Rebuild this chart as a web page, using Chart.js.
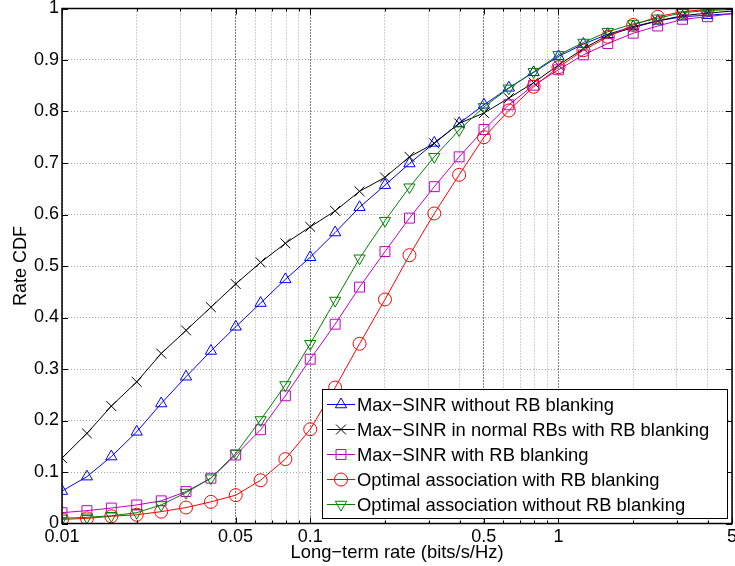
<!DOCTYPE html>
<html><head><meta charset="utf-8">
<script src="https://cdn.jsdelivr.net/npm/chart.js@4.4.0/dist/chart.umd.min.js"></script>
<style>html,body{margin:0;padding:0;background:#fff;}#wrap{width:735px;height:566px;}</style>
</head><body><div id="wrap"><canvas id="c" width="735" height="566"></canvas></div>
<script>
// ---- data ----
const xRates = [0.01, 0.0126, 0.0158, 0.02, 0.0251, 0.0316, 0.0398, 0.0501, 0.0631, 0.0794,
                0.1, 0.126, 0.158, 0.2, 0.251, 0.316, 0.398, 0.501, 0.631, 0.794,
                1, 1.26, 1.58, 2, 2.51, 3.16, 3.98, 5.01];
const seriesLabels = [
  'Max−SINR without RB blanking',
  'Max−SINR in normal RBs with RB blanking',
  'Max−SINR with RB blanking',
  'Optimal association with RB blanking',
  'Optimal association without RB blanking'
];
const maxSinrNoBlank = [0.063, 0.091, 0.13, 0.178, 0.233, 0.285, 0.335, 0.382, 0.428, 0.474,
  0.517, 0.565, 0.614, 0.657, 0.699, 0.739, 0.777, 0.813, 0.846, 0.876,
  0.907, 0.931, 0.95, 0.965, 0.976, 0.984, 0.987, 0.99];
const maxSinrNormalRBs = [0.127, 0.175, 0.228, 0.275, 0.33, 0.375, 0.42, 0.465, 0.507, 0.544,
  0.576, 0.607, 0.645, 0.672, 0.712, 0.738, 0.777, 0.797, 0.826, 0.856,
  0.89, 0.922, 0.948, 0.963, 0.976, 0.986, 0.991, 0.995];
const maxSinrBlank = [0.021, 0.025, 0.03, 0.036, 0.044, 0.062, 0.088, 0.133, 0.182, 0.248,
  0.319, 0.387, 0.459, 0.528, 0.593, 0.654, 0.712, 0.765, 0.813, 0.851,
  0.881, 0.91, 0.932, 0.952, 0.966, 0.979, 0.984, 0.99];
const optimalBlank = [0.008, 0.01, 0.014, 0.017, 0.023, 0.031, 0.042, 0.055, 0.084, 0.125,
  0.183, 0.264, 0.349, 0.435, 0.521, 0.602, 0.677, 0.75, 0.802, 0.848,
  0.886, 0.919, 0.945, 0.968, 0.984, 0.994, 0.998, 1.0];
const optimalNoBlank = [0.01, 0.012, 0.015, 0.021, 0.036, 0.06, 0.088, 0.136, 0.201, 0.269,
  0.349, 0.433, 0.515, 0.588, 0.653, 0.712, 0.764, 0.809, 0.845, 0.877,
  0.91, 0.934, 0.955, 0.97, 0.981, 0.992, 0.996, 0.998];
const xTickValues = [0.01, 0.02, 0.03, 0.04, 0.05, 0.06, 0.07, 0.08, 0.09,
  0.1, 0.2, 0.3, 0.4, 0.5, 0.6, 0.7, 0.8, 0.9, 1, 2, 3, 4, 5];
const xLabeledTicks = [0.01, 0.05, 0.1, 0.5, 1, 5];
const yTickValues = [0, 0.1, 0.2, 0.3, 0.4, 0.5, 0.6, 0.7, 0.8, 0.9, 1];

const FONT = "'Liberation Sans', Arial, Helvetica, sans-serif";
const lastIdx = xRates.length - 1;

function mk(label, values, color, style, radius, rotation, order) {
  return {
    label, order,
    data: xRates.map((x, i) => ({x, y: values[i]})),
    borderColor: color, borderWidth: 1, tension: 0, fill: false,
    pointStyle: style, pointRotation: rotation,
    pointRadius: ctx => ctx.dataIndex === lastIdx ? 0 : radius,
    pointBorderColor: color, pointBackgroundColor: 'rgba(0,0,0,0)', pointBorderWidth: 1,
    _legendRadius: radius
  };
}

const datasets = [
  mk(seriesLabels[0], maxSinrNoBlank, '#0000ff', 'triangle', 6.5, 0, 5),
  mk(seriesLabels[1], maxSinrNormalRBs, '#000000', 'crossRot', 7, 0, 4),
  mk(seriesLabels[2], maxSinrBlank, '#bf00bf', 'rect', 7, 0, 3),
  mk(seriesLabels[3], optimalBlank, '#ff0000', 'circle', 6.5, 0, 2),
  mk(seriesLabels[4], optimalNoBlank, '#008000', 'triangle', 6.5, 180, 1)
];

const framePlugin = {
  id: 'frame',
  afterDatasetsDraw(chart) {
    const {ctx, chartArea: a, scales: {x, y}} = chart;
    ctx.save();
    ctx.strokeStyle = '#000';
    ctx.lineWidth = 1;
    ctx.beginPath();
    yTickValues.forEach(v => {
      const py = Math.round(y.getPixelForValue(v)) + 0.5;
      ctx.moveTo(a.left, py); ctx.lineTo(a.left + 6, py);
      ctx.moveTo(a.right, py); ctx.lineTo(a.right - 6, py);
    });
    xTickValues.forEach(v => {
      const px = Math.round(x.getPixelForValue(v)) + 0.5;
      const len = xLabeledTicks.includes(v) ? 6 : 3;
      ctx.moveTo(px, a.bottom); ctx.lineTo(px, a.bottom - len);
      ctx.moveTo(px, a.top); ctx.lineTo(px, a.top + len);
    });
    ctx.stroke();
    ctx.lineWidth = 1.5;
    ctx.strokeRect(a.left, a.top, a.right - a.left, a.bottom - a.top);
    ctx.restore();
  }
};

const legendPlugin = {
  id: 'boxLegend',
  afterDraw(chart) {
    const {ctx, chartArea: a} = chart;
    const w = 405, h = 129;
    const x0 = a.right - 5 - w, y0 = a.bottom - 5.5 - h;
    ctx.save();
    ctx.fillStyle = '#fff';
    ctx.fillRect(x0, y0, w, h);
    ctx.strokeStyle = '#000';
    ctx.lineWidth = 1;
    ctx.strokeRect(Math.round(x0) + 0.5, Math.round(y0) + 0.5, w, h);
    ctx.font = '18.4px ' + FONT;
    ctx.textBaseline = 'middle';
    ctx.textAlign = 'left';
    chart.data.datasets.forEach((ds, i) => {
      const cy = y0 + 15.5 + i * 25;
      ctx.strokeStyle = ds.borderColor;
      ctx.lineWidth = 1;
      ctx.beginPath();
      ctx.moveTo(x0 + 5, cy); ctx.lineTo(x0 + 33, cy);
      ctx.stroke();
      ctx.fillStyle = 'rgba(0,0,0,0)';
      Chart.helpers.drawPoint(ctx, {pointStyle: ds.pointStyle, rotation: ds.pointRotation,
        radius: ds._legendRadius, borderWidth: 1}, x0 + 19, cy);
      ctx.fillStyle = '#000';
      ctx.fillText(ds.label, x0 + 35, cy + 1);
    });
    ctx.restore();
  }
};

new Chart(document.getElementById('c'), {
  type: 'line',
  data: {datasets},
  options: {
    responsive: false, animation: false, devicePixelRatio: 1,
    layout: {autoPadding: false, padding: {left: 0, right: 3, top: 8.5, bottom: 0}},
    plugins: {legend: {display: false}, tooltip: {enabled: false}},
    scales: {
      x: {
        type: 'logarithmic', min: 0.01, max: 5,
        afterBuildTicks: s => { s.ticks = xTickValues.map(v => ({value: v})); },
        afterFit: s => { s.height = 42.5; s.paddingLeft = 0; s.paddingRight = 0; },
        ticks: {
          autoSkip: false, maxRotation: 0, minRotation: 0, padding: 2.5, color: '#000',
          font: {family: FONT, size: 18},
          callback: v => xLabeledTicks.includes(v) ? String(v) : ''
        },
        grid: {
          drawTicks: false, lineWidth: 1,
          color: c => xLabeledTicks.includes(c.tick && c.tick.value) ? '#000' : '#a0a0a0'
        },
        border: {display: false, dash: [1, 2]},
        title: {display: true, text: 'Long−term rate (bits/s/Hz)', color: '#000',
          font: {family: FONT, size: 18.4}, padding: {top: 0, bottom: 1.7}}
      },
      y: {
        min: 0, max: 1,
        afterBuildTicks: s => { s.ticks = yTickValues.map(v => ({value: v})); },
        afterFit: s => { s.width = 62; s.paddingTop = 0; s.paddingBottom = 0; },
        ticks: {padding: 3, color: '#000', font: {family: FONT, size: 18},
          callback: v => String(v)},
        grid: {drawTicks: false, lineWidth: 1, color: '#a0a0a0'},
        border: {display: false, dash: [1, 2]},
        title: {display: true, text: 'Rate CDF', color: '#000',
          font: {family: FONT, size: 18}, padding: {top: 10, bottom: 0}}
      }
    }
  },
  plugins: [framePlugin, legendPlugin]
});
</script>
</body></html>
